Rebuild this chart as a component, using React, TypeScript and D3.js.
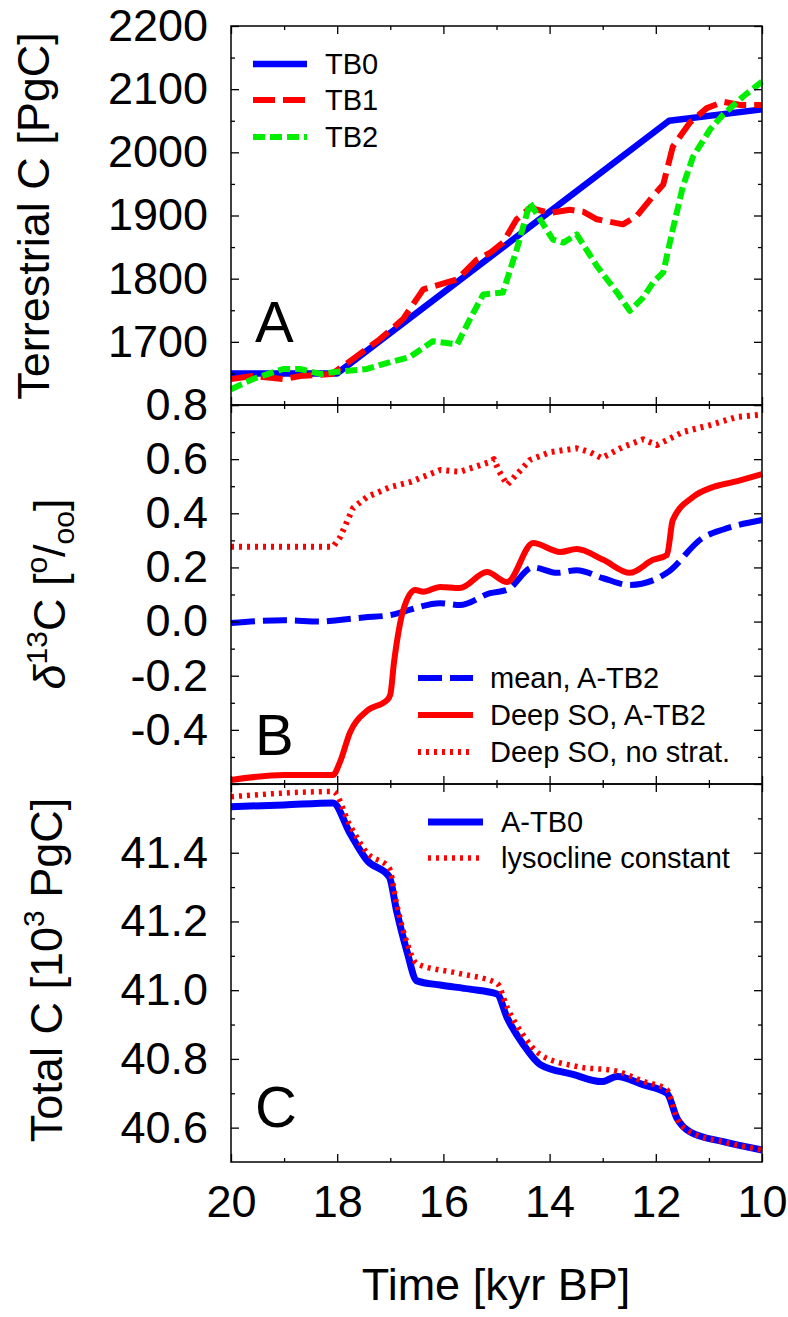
import React, { useEffect, useRef } from 'react'
import * as d3 from 'd3'

// panel A: terrestrial carbon
const tb0X = [20, 18, 11.75, 10]
const tb0Y = [1650, 1650, 2050, 2068]
const tb1X = [20, 19.6, 19.0, 18.7, 18.1, 17.7, 17.2, 16.76, 16.38, 16.06, 15.74, 15.37, 15.12, 14.88, 14.62, 14.37, 13.99, 13.62, 13.37, 13.11, 12.62, 12.36, 12.05, 11.86, 11.68, 11.36, 11.04, 10.73, 10.41, 10.0]
const tb1Y = [1641, 1646, 1641, 1646, 1649, 1673, 1704, 1736, 1783, 1791, 1799, 1830, 1841, 1857, 1894, 1912, 1904, 1909, 1906, 1894, 1886, 1899, 1931, 1949, 2009, 2047, 2070, 2080, 2075, 2075]
const tb2X = [20, 19.59, 19.02, 18.7, 18.3, 18.08, 17.44, 17.0, 16.63, 16.2, 15.74, 15.5, 15.25, 14.88, 14.62, 14.37, 14.18, 13.94, 13.74, 13.49, 13.11, 12.73, 12.49, 12.24, 12.05, 11.86, 11.68, 11.49, 11.3, 10.98, 10.73, 10.36, 10.0]
const tb2Y = [1625, 1641, 1657, 1657, 1649, 1652, 1657, 1668, 1676, 1701, 1696, 1736, 1775, 1778, 1846, 1920, 1894, 1862, 1857, 1870, 1820, 1778, 1749, 1770, 1794, 1810, 1878, 1946, 1993, 2036, 2060, 2088, 2112]

// panel B: d13C
const meanX = [20, 19, 18.3, 18.0, 17.5, 17.0, 16.76, 16.06, 15.69, 15.12, 14.8, 14.31, 13.86, 13.49, 12.99, 12.49, 11.79, 11.11, 10.73, 10.0]
const meanY = [-0.005, 0.005, 0.0, 0.005, 0.015, 0.024, 0.036, 0.068, 0.061, 0.105, 0.117, 0.2, 0.18, 0.19, 0.16, 0.135, 0.18, 0.31, 0.34, 0.375]
const deepX = [20, 19.0, 18.08, 17.95, 17.76, 17.44, 17.06, 17.0, 16.93, 16.88, 16.76, 16.53, 16.38, 16.06, 15.69, 15.18, 14.8, 14.31, 13.8, 13.49, 12.99, 12.49, 12.05, 11.79, 11.68, 11.3, 10.92, 10.55, 10.0]
const deepY = [-0.585, -0.567, -0.567, -0.52, -0.41, -0.33, -0.29, -0.27, -0.15, -0.08, 0.04, 0.117, 0.11, 0.128, 0.124, 0.183, 0.146, 0.29, 0.257, 0.268, 0.228, 0.18, 0.228, 0.246, 0.375, 0.46, 0.497, 0.515, 0.545]
const nostratX = [20, 18.08, 17.95, 17.7, 17.44, 17.0, 16.63, 16.06, 15.69, 15.12, 15.05, 14.95, 14.8, 14.37, 13.99, 13.49, 13.24, 13.02, 12.62, 12.24, 11.98, 11.49, 10.98, 10.47, 10.0]
const nostratY = [0.276, 0.276, 0.31, 0.42, 0.46, 0.497, 0.515, 0.56, 0.553, 0.59, 0.6, 0.555, 0.505, 0.597, 0.626, 0.64, 0.626, 0.604, 0.645, 0.673, 0.652, 0.7, 0.726, 0.756, 0.765]

// panel C: total carbon
const atb0X = [20, 19.0, 18.08, 17.76, 17.44, 17.02, 16.88, 16.69, 16.5, 16.06, 15.5, 14.99, 14.8, 14.5, 14.18, 13.56, 13.02, 12.73, 12.24, 11.79, 11.6, 11.36, 10.73, 10.0]
const atb0Y = [41.534, 41.539, 41.545, 41.457, 41.378, 41.33, 41.23, 41.115, 41.027, 41.015, 41.003, 40.989, 40.92, 40.843, 40.784, 40.755, 40.734, 40.749, 40.725, 40.7, 40.627, 40.588, 40.559, 40.535]
const lysoX = [20, 18.08, 17.76, 17.44, 17.02, 16.88, 16.69, 16.5, 15.75, 14.99, 14.8, 14.5, 14.18, 13.49, 12.73, 12.24, 11.79, 11.6, 11.36, 10.73, 10.0]
const lysoY = [41.563, 41.578, 41.48, 41.4, 41.355, 41.25, 41.14, 41.077, 41.05, 41.02, 40.95, 40.87, 40.813, 40.778, 40.764, 40.735, 40.71, 40.627, 40.588, 40.559, 40.535]

const xMajor = [20, 18, 16, 14, 12, 10]
const xMinor = [19, 17, 15, 13, 11]

const FONT = "'Liberation Sans', Arial, Helvetica, sans-serif"

export default function App() {
  const ref = useRef<SVGSVGElement>(null)

  useEffect(() => {
    const svg = d3.select(ref.current)
    svg.selectAll('*').remove()

    const x = d3.scaleLinear().domain([20, 10]).range([231, 762])

    const panels = [
      {
        top: 26, bottom: 405, domain: [1600, 2200],
        major: d3.range(1600, 2201, 100), minor: d3.range(1650, 2200, 100),
        fmt: (d: number) => (d === 1600 ? '' : String(d)),
        letter: 'A', letterY: 342,
        series: [
          { xs: tb0X, ys: tb0Y, color: '#0000ff', dash: null, w: 6.5, smooth: false, label: 'TB0' },
          { xs: tb1X, ys: tb1Y, color: '#ff0000', dash: '22,8', w: 6, smooth: false, label: 'TB1' },
          { xs: tb2X, ys: tb2Y, color: '#00ee00', dash: '12,5', w: 6, smooth: false, label: 'TB2' },
        ],
        legend: { x0: 253, x1: 307, tx: 325, ys: [64, 100, 137] },
      },
      {
        top: 405, bottom: 784, domain: [-0.6, 0.8],
        major: [-0.6, -0.4, -0.2, 0, 0.2, 0.4, 0.6, 0.8], minor: [-0.5, -0.3, -0.1, 0.1, 0.3, 0.5, 0.7],
        fmt: (d: number) => (Math.abs(d + 0.6) < 1e-6 ? '' : d.toFixed(1)),
        letter: 'B', letterY: 755,
        series: [
          { xs: meanX, ys: meanY, color: '#0000ff', dash: '24,8', w: 6, smooth: true, label: 'mean, A-TB2' },
          { xs: deepX, ys: deepY, color: '#ff0000', dash: null, w: 6, smooth: true, label: 'Deep SO, A-TB2' },
          { xs: nostratX, ys: nostratY, color: '#ff0000', dash: '3,5', w: 6, smooth: false, label: 'Deep SO, no strat.' },
        ],
        legend: { x0: 418, x1: 473, tx: 490, ys: [678, 715, 752] },
      },
      {
        top: 784, bottom: 1162, domain: [40.5, 41.6],
        major: [40.6, 40.8, 41.0, 41.2, 41.4], minor: [40.7, 40.9, 41.1, 41.3, 41.5],
        fmt: (d: number) => d.toFixed(1),
        letter: 'C', letterY: 1127,
        series: [
          { xs: atb0X, ys: atb0Y, color: '#0000ff', dash: null, w: 7, smooth: true, label: 'A-TB0' },
          { xs: lysoX, ys: lysoY, color: '#ff0000', dash: '3,5', w: 5.5, smooth: true, label: 'lysocline constant' },
        ],
        legend: { x0: 428, x1: 483, tx: 501, ys: [822, 858] },
      },
    ]

    panels.forEach((p, pi) => {
      const y = d3.scaleLinear().domain(p.domain).range([p.bottom, p.top])
      const g = svg.append('g')

      // curves
      p.series.forEach(s => {
        const pts = s.xs.map((v, i) => [v, s.ys[i]] as [number, number])
        const line = d3.line<[number, number]>().x(d => x(d[0])).y(d => y(d[1]))
          .curve(s.smooth ? d3.curveMonotoneX : d3.curveLinear)
        const path = g.append('path')
          .attr('d', line(pts))
          .attr('fill', 'none')
          .attr('stroke', s.color)
          .attr('stroke-width', s.w)
          .attr('stroke-linejoin', 'round')
        if (s.dash) path.attr('stroke-dasharray', s.dash)
      })

      // axes with inward ticks on all sides
      const left = d3.axisLeft(y).tickValues(p.major).tickSizeInner(-8).tickSizeOuter(0).tickPadding(23).tickFormat(p.fmt as any)
      const leftMinor = d3.axisLeft(y).tickValues(p.minor).tickSizeInner(-4).tickSizeOuter(0).tickFormat(() => '')
      const right = d3.axisRight(y).tickValues(p.major).tickSizeInner(-8).tickSizeOuter(0).tickFormat(() => '')
      const rightMinor = d3.axisRight(y).tickValues(p.minor).tickSizeInner(-4).tickSizeOuter(0).tickFormat(() => '')
      const top = d3.axisTop(x).tickValues(xMajor).tickSizeInner(-8).tickSizeOuter(0).tickFormat(() => '')
      const topMinor = d3.axisTop(x).tickValues(xMinor).tickSizeInner(-4).tickSizeOuter(0).tickFormat(() => '')
      const bottom = d3.axisBottom(x).tickValues(xMajor).tickSizeInner(-8).tickSizeOuter(0).tickPadding(55)
        .tickFormat((d: any) => (pi === 2 ? String(d) : ''))
      const bottomMinor = d3.axisBottom(x).tickValues(xMinor).tickSizeInner(-4).tickSizeOuter(0).tickFormat(() => '')

      const put = (ax: any, tr: string) => {
        const a = g.append('g').attr('transform', tr).call(ax)
        a.select('.domain').remove()
        a.selectAll('line').attr('stroke', '#000').attr('stroke-width', 1.3)
        a.selectAll('text').attr('font-family', FONT).attr('font-size', 45).attr('fill', '#000')
        return a
      }
      put(left, 'translate(231,0)')
      put(leftMinor, 'translate(231,0)')
      put(right, 'translate(762,0)')
      put(rightMinor, 'translate(762,0)')
      put(top, `translate(0,${p.top})`)
      put(topMinor, `translate(0,${p.top})`)
      const b = put(bottom, `translate(0,${p.bottom})`)
      b.selectAll('text').attr('dy', 0)
      put(bottomMinor, `translate(0,${p.bottom})`)

      g.append('rect')
        .attr('x', 231).attr('y', p.top)
        .attr('width', 531).attr('height', p.bottom - p.top)
        .attr('fill', 'none').attr('stroke', '#000').attr('stroke-width', 1.5)

      g.append('text')
        .attr('x', 255).attr('y', p.letterY)
        .attr('font-family', FONT).attr('font-size', 58)
        .text(p.letter)

      // legend
      p.series.forEach((s, i) => {
        const ly = p.legend.ys[i]
        const l = g.append('line')
          .attr('x1', p.legend.x0).attr('x2', p.legend.x1)
          .attr('y1', ly).attr('y2', ly)
          .attr('stroke', s.color).attr('stroke-width', s.w)
        if (s.dash) l.attr('stroke-dasharray', s.dash)
        g.append('text')
          .attr('x', p.legend.tx).attr('y', ly).attr('dy', '0.35em')
          .attr('font-family', FONT).attr('font-size', 29)
          .text(s.label)
      })
    })

    // y titles
    const title = (cx: number, cy: number) =>
      svg.append('text')
        .attr('transform', `translate(${cx},${cy}) rotate(-90)`)
        .attr('text-anchor', 'middle')
        .attr('font-family', FONT).attr('font-size', 45)

    title(49, 216).text('Terrestrial C [PgC]')

    const tB = title(65, 594)
    tB.append('tspan').attr('font-style', 'italic').text('δ')
    tB.append('tspan').attr('font-size', 30).attr('dy', -18).text('13')
    tB.append('tspan').attr('dy', 18).text('C [')
    tB.append('tspan').attr('font-size', 30).attr('dy', -18).text('o')
    tB.append('tspan').attr('dy', 18).text('/')
    tB.append('tspan').attr('font-size', 30).attr('dy', 9).text('oo')
    tB.append('tspan').attr('dy', -9).text(']')

    const tC = title(62, 970)
    tC.append('tspan').text('Total C [10')
    tC.append('tspan').attr('font-size', 30).attr('dy', -18).text('3')
    tC.append('tspan').attr('dy', 18).text(' PgC]')

    svg.append('text')
      .attr('x', 496).attr('y', 1300)
      .attr('text-anchor', 'middle')
      .attr('font-family', FONT).attr('font-size', 45)
      .text('Time [kyr BP]')
  }, [])

  return (
    <div>
      <svg ref={ref} width={788} height={1317}
        style={{ position: 'absolute', left: 0, top: 0, background: '#fff' }} />
    </div>
  )
}
